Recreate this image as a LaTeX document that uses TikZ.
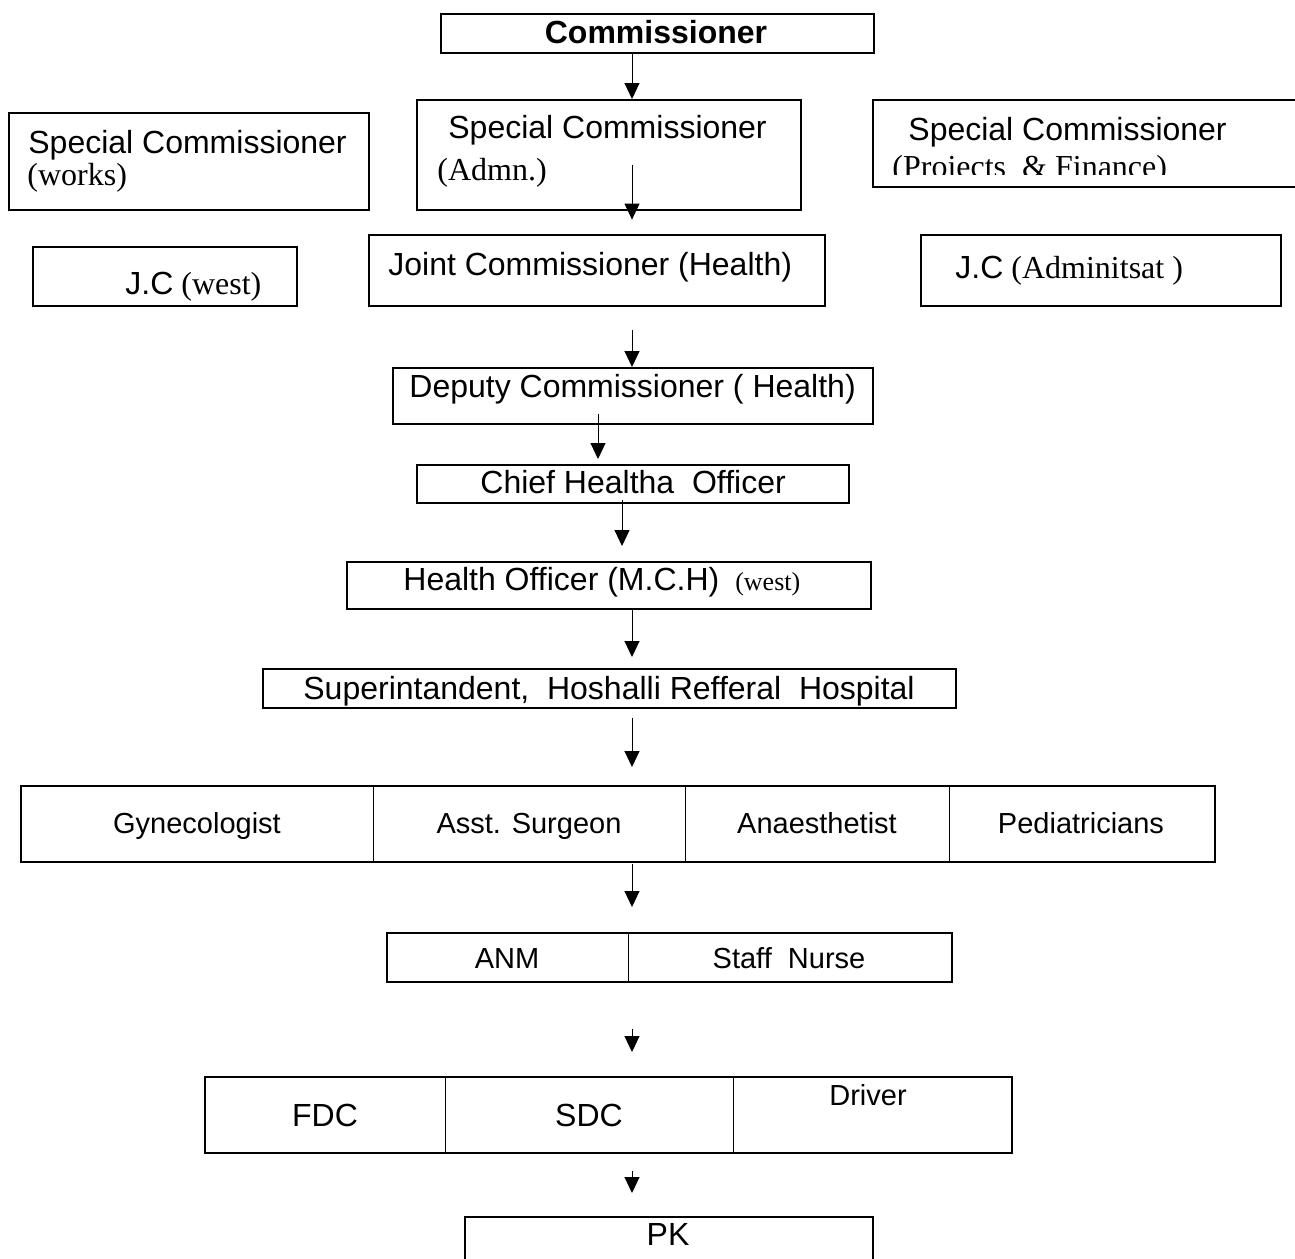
\documentclass[tikz,border=0pt]{standalone}
\usepackage{fontspec}
\setmainfont{Liberation Sans}
\newfontfamily\tnr{Liberation Serif}
\usetikzlibrary{arrows.meta,calc}

\begin{document}
\begin{tikzpicture}[x=0.5pt,y=-0.5pt,
  box/.style={draw,line width=0.8pt,inner sep=0pt,anchor=north west},
  cell/.style={draw,line width=0.5pt,inner sep=0pt,anchor=north west},
  lbl/.style={inner sep=0pt,anchor=base west,font=\fontsize{16}{19}\selectfont},
  mid/.style={inner sep=0pt,anchor=base,font=\fontsize{16}{19}\selectfont},
  sml/.style={inner sep=0pt,anchor=base,font=\fontsize{14.5}{17}\selectfont},
  arr/.style={line width=0.5pt,-{Triangle[length=8pt,width=7.5pt]}}]
\useasboundingbox (0,0) rectangle (1295,1258);
\coordinate (ax) at (632,0);
\coordinate (axb) at (598,0);
\coordinate (axc) at (622,0);
% top level
\node[box,minimum width=216.5pt,minimum height=19.5pt] (comm) at (440,13) {};
\node[mid,font=\fontsize{16}{19}\selectfont\bfseries] (tcomm) at (656,43) {Commissioner};
% special commissioners
\node[box,minimum width=180pt,minimum height=48.5pt] (works) at (8,112) {};
\node[lbl] (tworks) at (28,153) {Special Commissioner};
\node[lbl,font=\fontsize{16}{19}\selectfont\tnr] (tworks2) at (27,185) {(works)};
\node[box,minimum width=192pt,minimum height=55pt] (admn) at (416,99) {};
\node[lbl] (tadmn) at (448,138) {Special Commissioner};
\node[lbl,font=\fontsize{16}{19}\selectfont\tnr] (tadmn2) at (437,180) {(Admn.)};
\node[box,minimum width=240pt,minimum height=43.5pt] (proj) at (872,99) {};
\node[lbl] (tproj) at (908,140) {Special Commissioner};
\begin{scope}
\clip (880,140) rectangle (1295,174);
\node[lbl,font=\fontsize{16}{19}\selectfont\tnr] (tproj2) at (892,177) {(Proiects~~\& Finance)};
\end{scope}
% joint commissioners
\node[box,minimum width=132pt,minimum height=29.5pt] (jcw) at (32,246) {};
\node[lbl] (tjcw) at (125,294) {J.C{\tnr\ (west)}};
\node[box,minimum width=228pt,minimum height=35.5pt] (jch) at (368,234) {};
\node[lbl] (tjch) at (388,275) {Joint Commissioner (Health)};
\node[box,minimum width=180pt,minimum height=35.5pt] (jca) at (920,234) {};
\node[lbl] (tjca) at (955,278) {J.C{\tnr\ (Adminitsat )}};
% health chain
\node[box,minimum width=240pt,minimum height=28pt] (dep) at (392,367) {};
\node[lbl] (tdep) at (409,397) {Deputy Commissioner ( Health)};
\node[box,minimum width=216pt,minimum height=19pt] (chief) at (416,464) {};
\node[lbl] (tchief) at (480,493) {Chief Healtha~~Officer};
\node[box,minimum width=262pt,minimum height=23.5pt] (ho) at (346,561) {};
\node[lbl] (tho) at (403,590) {Health Officer (M.C.H)\hspace{8pt}{\tnr\fontsize{13}{15}\selectfont(west)}};
\node[box,minimum width=346.5pt,minimum height=19.5pt] (sup) at (262,668) {};
\node[lbl] (tsup) at (303,699) {Superintandent,~~Hoshalli Refferal~~Hospital};
% doctors
\node[cell,minimum width=176pt,minimum height=37.5pt] (gyn) at (21,786) {};
\node[cell,minimum width=156pt,minimum height=37.5pt] (asst) at (373,786) {};
\node[cell,minimum width=132pt,minimum height=37.5pt] (ana) at (685,786) {};
\node[cell,minimum width=132.5pt,minimum height=37.5pt] (ped) at (949,786) {};
\draw[line width=0.9pt] (gyn.north west) rectangle (ped.south east);
\node[sml] (tgyn) at (197,833) {Gynecologist};
\node[sml] (tasst) at (529,833) {Asst. Surgeon};
\node[sml] (tana) at (817,833) {Anaesthetist};
\node[sml] (tped) at (1081,833) {Pediatricians};
% nurses
\node[cell,minimum width=120.5pt,minimum height=24pt] (anm) at (387,933) {};
\node[cell,minimum width=161.5pt,minimum height=24pt] (nurse) at (628,933) {};
\draw[line width=0.9pt] (anm.north west) rectangle (nurse.south east);
\node[sml] (tanm) at (507,968) {ANM};
\node[sml] (tnurse) at (789,968) {Staff~~Nurse};
% clerks
\node[cell,minimum width=120pt,minimum height=37.5pt] (fdc) at (205,1077) {};
\node[cell,minimum width=144pt,minimum height=37.5pt] (sdc) at (445,1077) {};
\node[cell,minimum width=139pt,minimum height=37.5pt] (drv) at (733,1077) {};
\draw[line width=0.9pt] (fdc.north west) rectangle (drv.south east);
\node[mid] (tfdc) at (325,1126) {FDC};
\node[mid] (tsdc) at (589,1126) {SDC};
\node[sml] (tdrv) at (868,1105) {Driver};
% last
\node[box,minimum width=204pt,minimum height=50pt] (pk) at (464,1216) {};
\node[mid] (tpk) at (668,1245) {PK};
% arrows
\draw[arr] (comm.south-|ax) -- (admn.north-|ax);
\draw[arr] ($(admn.south-|ax)+(0,-46)$) -- ($(admn.south-|ax)+(0,9)$);
\draw[arr] ($(jch.south-|ax)+(0,23)$) -- (dep.north-|ax);
\draw[arr] ($(dep.south-|axb)+(0,-11)$) -- ($(chief.north-|axb)+(0,-5)$);
\draw[arr] ($(chief.south-|axc)+(0,-4)$) -- ($(ho.north-|axc)+(0,-15)$);
\draw[arr] (ho.south-|ax) -- ($(sup.north-|ax)+(0,-11)$);
\draw[arr] ($(sup.south-|ax)+(0,9)$) -- ($(gyn.north-|ax)+(0,-19)$);
\draw[arr] ($(gyn.south-|ax)+(0,2)$) -- ($(anm.north-|ax)+(0,-26)$);
\draw[arr] ($(anm.south-|ax)+(0,47)$) -- ($(fdc.north-|ax)+(0,-25)$);
\draw[arr] ($(fdc.south-|ax)+(0,18)$) -- ($(pk.north-|ax)+(0,-23)$);
\end{tikzpicture}
\end{document}
